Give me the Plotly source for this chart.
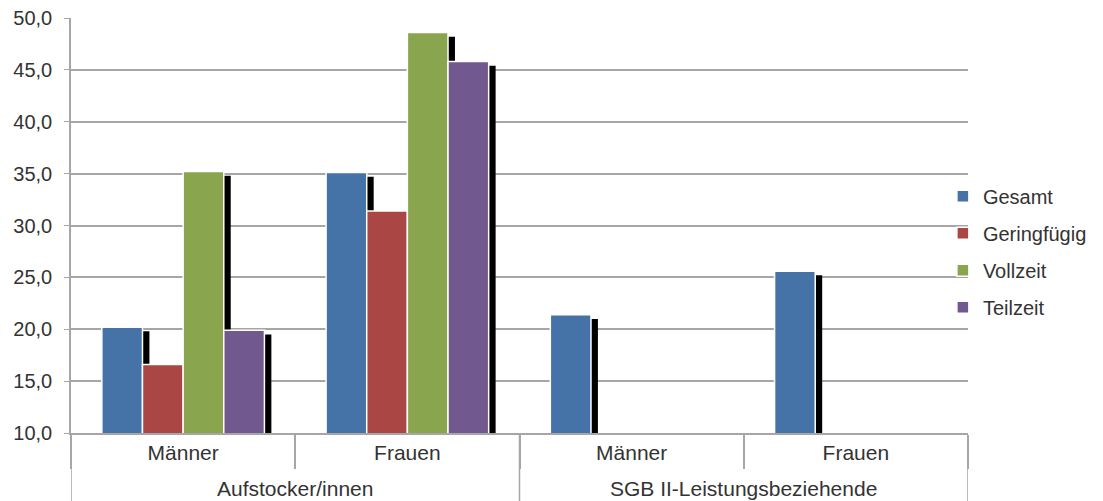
"""Anteil nach Beschäftigungsart – gruppiertes Balkendiagramm mit Schatten."""

import plotly.graph_objects as go

# Data
groups = ["Aufstocker/innen", "Aufstocker/innen", "SGB II-Leistungsbeziehende", "SGB II-Leistungsbeziehende"]
genders = ["Männer", "Frauen", "Männer", "Frauen"]
series_names = ["Gesamt", "Geringfügig", "Vollzeit", "Teilzeit"]
gesamt = [20.2, 35.1, 21.4, 25.6]
geringfuegig = [16.6, 31.4, None, None]
vollzeit = [35.2, 48.6, None, None]
teilzeit = [19.9, 45.8, None, None]
y_ticks = [10, 15, 20, 25, 30, 35, 40, 45, 50]

values = [gesamt, geringfuegig, vollzeit, teilzeit]
colors = ["#4572A7", "#AA4643", "#89A54E", "#71588F"]

# unique category keys, shown with the inner labels only
keys = [f"{g} | {s}" for g, s in zip(groups, genders)]

# Layout geometry (category units / value units)
group_frac = 0.725
bar_w = group_frac / 4
shadow_dx = 0.031   # ~7 px to the right
shadow_dy = 0.4     # ~4 px lower

text_color = "#333333"
grid_color = "#a6a6a6"
font_family = "Liberation Sans, Arial, sans-serif"
fsize = 21

fig = go.Figure()

# Shadows first so they sit behind all bars
for i, vals in enumerate(values):
    offset = -group_frac / 2 + i * bar_w
    fig.add_trace(go.Bar(
        x=keys,
        y=[v - shadow_dy if v is not None else None for v in vals],
        offset=offset + shadow_dx,
        width=bar_w,
        marker=dict(color="#000000", line=dict(width=0)),
        hoverinfo="skip",
        showlegend=False,
    ))

for i, (name, vals) in enumerate(zip(series_names, values)):
    offset = -group_frac / 2 + i * bar_w
    fig.add_trace(go.Bar(
        x=keys,
        y=vals,
        name=name,
        offset=offset,
        width=bar_w,
        marker=dict(color=colors[i], line=dict(color="#ffffff", width=1.5)),
        legendgroup=name,
    ))

# outer group labels and full-height dividers between the groups
group_names = list(dict.fromkeys(groups))
start = 0
for gname in group_names:
    n = groups.count(gname)
    fig.add_annotation(
        x=start + (n - 1) / 2, y=-0.133,
        xref="x", yref="paper",
        text=gname,
        showarrow=False,
        font=dict(size=fsize, color=text_color),
        yanchor="middle",
    )
    for edge in ([start - 0.5] if start == 0 else []) + [start + n - 0.5]:
        fig.add_shape(
            type="line",
            x0=edge, x1=edge, y0=0, y1=-0.17,
            xref="x", yref="paper",
            line=dict(color=grid_color, width=1.5),
        )
    start += n

# page body adds an 8px margin, so the figure is sized 8px smaller
fig.update_layout(
    barmode="overlay",
    separators=",.",
    width=1095,
    height=493,
    font=dict(family=font_family, color=text_color, size=fsize),
    plot_bgcolor="#ffffff",
    paper_bgcolor="#ffffff",
    margin=dict(l=63, r=135, t=10, b=68),
    xaxis=dict(
        type="category",
        automargin=False,
        tickvals=keys,
        ticktext=genders,
        range=[-0.5, len(keys) - 0.5],
        showline=True,
        linecolor=grid_color,
        linewidth=1.5,
        ticks="outside",
        tickson="boundaries",
        ticklen=34,
        tickcolor=grid_color,
        tickwidth=1.5,
        tickfont=dict(size=fsize, color=text_color),
        showgrid=False,
    ),
    yaxis=dict(
        automargin=False,
        range=[10, 50.001],
        tickvals=y_ticks,
        tickformat=".1f",
        ticklabeloverflow="allow",
        ticklabelstandoff=8,
        showgrid=True,
        gridcolor=grid_color,
        gridwidth=1.5,
        showline=True,
        linecolor=grid_color,
        linewidth=1.5,
        ticks="outside",
        ticklen=5,
        tickcolor=grid_color,
        tickfont=dict(size=20, color=text_color),
        zeroline=False,
    ),
    legend=dict(
        x=0.972, y=0.437,
        xref="paper", yref="paper",
        xanchor="left", yanchor="middle",
        font=dict(size=20, color=text_color),
        tracegroupgap=8,
        bgcolor="rgba(0,0,0,0)",
    ),
)

fig.write_html("out.html")
